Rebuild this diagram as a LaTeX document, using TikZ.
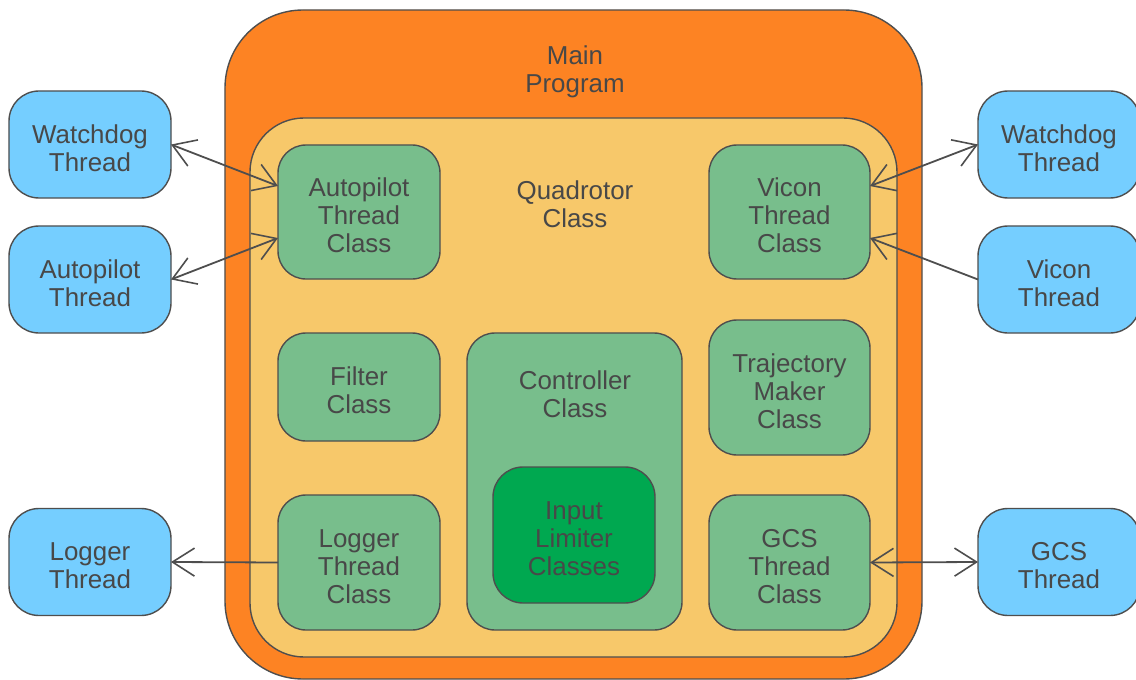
\documentclass[tikz,border=0pt]{standalone}
\usepackage{fontspec}
\setmainfont{Liberation Sans}
\usetikzlibrary{arrows.meta}

\definecolor{edge}{RGB}{78,78,78}
\definecolor{ink}{RGB}{72,72,72}
\definecolor{progorange}{RGB}{253,131,35}
\definecolor{classyellow}{RGB}{247,200,106}
\definecolor{partgreen}{RGB}{120,190,140}
\definecolor{deepgreen}{RGB}{0,168,80}
\definecolor{threadblue}{RGB}{117,206,255}

\begin{document}
\begin{tikzpicture}[x=1bp,y=-1bp,
  every node/.style={font=\fontsize{26}{28}\selectfont, text=ink, align=center, text width=150bp,
    inner sep=0pt, outer sep=0pt, execute at begin node={\rule{0pt}{26bp}}},
  shell/.style={draw=edge, line width=1.4bp},
  mainbox/.style={shell, fill=progorange, rounded corners=78bp},
  quadbox/.style={shell, fill=classyellow, rounded corners=54bp},
  part/.style={shell, fill=partgreen, rounded corners=28bp},
  inner/.style={shell, fill=deepgreen, rounded corners=30bp},
  thread/.style={shell, fill=threadblue, rounded corners=30bp, minimum width=162bp, minimum height=107bp},
  partbox/.style={part, minimum width=162bp, minimum height=134bp},
  >={Straight Barb[length=22bp, width=28bp, line width=1.6bp]},
  link/.style={draw=edge, line width=1.8bp},
  both/.style={link, <->},
  one/.style={link, ->}
]
\useasboundingbox (0,0) rectangle (1136,680);

% containers
\node[mainbox, minimum width=697bp, minimum height=669bp] (main) at (573.5,344.5) {};
\node (maintxt) at (575,68) {Main\\Program};
\node[quadbox, minimum width=647bp, minimum height=539bp] (quad) at (573.5,387.5) {};
\node (quadtxt) at (575,201) {Quadrotor\\Class};

% class parts
\node[partbox] (apc) at (359,212) {Autopilot\\Thread\\Class};
\node[partbox, minimum width=161bp] (vcc) at (789.5,212) {Vicon\\Thread\\Class};
\node[part, minimum width=162bp, minimum height=108bp] (flt) at (359,387) {Filter\\Class};
\node[partbox, minimum width=161bp, minimum height=135bp] (trj) at (789.5,387.5) {Trajectory\\Maker\\Class};
\node[partbox, minimum height=135bp] (lgc) at (359,562.5) {Logger\\Thread\\Class};
\node[partbox, minimum width=161bp, minimum height=135bp] (gcc) at (789.5,562.5) {GCS\\Thread\\Class};
\node[part, minimum width=215bp, minimum height=297bp] (ctl) at (574.5,481.5) {};
\node (ctltxt) at (575,391) {Controller\\Class};
\node[inner, minimum width=162bp, minimum height=136bp] (lim) at (574,535) {Input\\Limiter\\Classes};

% threads
\node[thread] (lwd) at (90,144.5) {Watchdog\\Thread};
\node[thread] (lap) at (90,279.5) {Autopilot\\Thread};
\node[thread] (llg) at (90,562) {Logger\\Thread};
\node[thread] (rwd) at (1059,144.5) {Watchdog\\Thread};
\node[thread] (rvc) at (1059,279.5) {Vicon\\Thread};
\node[thread] (rgc) at (1059,562) {GCS\\Thread};

% connectors
\draw[both] (lwd.east) -- ([yshift=26bp]apc.west);
\draw[both] (lap.east) -- ([yshift=-26bp]apc.west);
\draw[both] ([yshift=26bp]vcc.east) -- (rwd.west);
\draw[one] (rvc.west) -- ([yshift=-26bp]vcc.east);
\draw[one] (lgc.west) -- (llg.east);
\draw[both] (gcc.east) -- (rgc.west);
\end{tikzpicture}
\end{document}
